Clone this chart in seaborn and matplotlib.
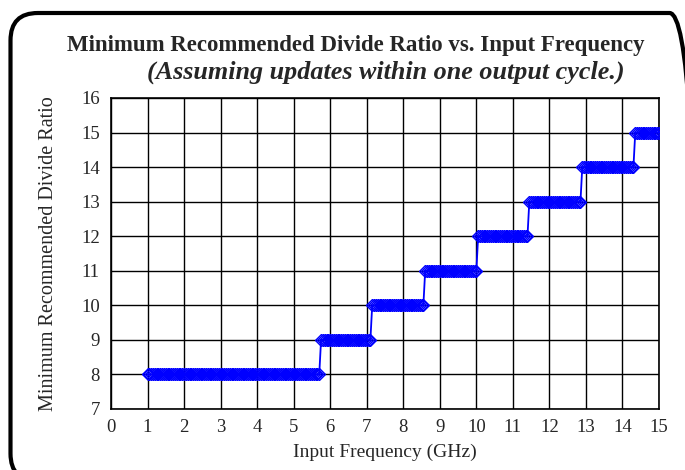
import numpy as np
import pandas as pd
import matplotlib
matplotlib.use("Agg")
import matplotlib.pyplot as plt
from matplotlib.patches import FancyBboxPatch
import seaborn as sns

# ---- data ----
levels = [8, 9, 10, 11, 12, 13, 14, 15]
seg_start_ghz = [1.00, 5.75, 7.15, 8.60, 10.05, 11.45, 12.90, 14.35]
seg_end_ghz = [5.70, 7.10, 8.55, 10.00, 11.40, 12.85, 14.30, 15.00]
sample_step_ghz = 0.05
x_ticks = list(range(0, 16))
y_ticks = list(range(7, 17))

title = "Minimum Recommended Divide Ratio vs. Input Frequency"
subtitle = "(Assuming updates within one output cycle.)"
xlabel = "Input Frequency (GHz)"
ylabel = "Minimum Recommended Divide Ratio"

freqs, ratios = [], []
for lv, s, e in zip(levels, seg_start_ghz, seg_end_ghz):
    n = int(round((e - s) / sample_step_ghz)) + 1
    for i in range(n):
        freqs.append(round(s + i * sample_step_ghz, 4))
        ratios.append(lv)
df = pd.DataFrame({"freq": freqs, "ratio": ratios})

sns.set_style("white")
plt.rcParams["font.family"] = ["Liberation Serif", "DejaVu Serif"]

W, H = 685, 470
fig = plt.figure(figsize=(W / 100, H / 100), dpi=100)
ax = fig.add_axes([111 / W, 1 - 409 / H, (659 - 111) / W, (409 - 98) / H])

# rounded frame (right and bottom edges fall just outside the picture)
x0, y0, x1, y1 = 10.5, 13, 697, 481
frame = FancyBboxPatch((x0 / W, 1 - y1 / H), (x1 - x0) / W, (y1 - y0) / H,
                       boxstyle="round,pad=0,rounding_size=0.04",
                       mutation_aspect=W / H,
                       transform=fig.transFigure, fill=False, edgecolor="black",
                       linewidth=3, clip_on=False)
fig.patches.append(frame)

sns.lineplot(data=df, x="freq", y="ratio", ax=ax, color="#0000ff", linewidth=1.3,
             marker="D", markersize=6, markerfacecolor="none",
             markeredgecolor="#0000ff", markeredgewidth=1.0, zorder=3)

ax.set_xlim(0, 15)
ax.set_ylim(7, 16)
ax.set_xticks(x_ticks)
ax.set_yticks(y_ticks)
ax.tick_params(axis="x", labelsize=13.5, length=0, pad=7)
ax.tick_params(axis="y", labelsize=13.5, length=0, pad=8)
ax.grid(True, color="black", linewidth=1.0)
for sp in ax.spines.values():
    sp.set_color("black")
    sp.set_linewidth(1.2)
ax.set_xlabel(xlabel, fontsize=14, labelpad=6)
ax.set_ylabel(ylabel, fontsize=14.5, labelpad=17)

fig.text(356 / W, 1 - 45 / H, title, ha="center", va="center",
         fontsize=16.5, fontweight="bold")
fig.text(386 / W, 1 - 72 / H, subtitle, ha="center", va="center",
         fontsize=18.8, fontweight="bold", fontstyle="italic")

fig.savefig("out.png", dpi=100)
